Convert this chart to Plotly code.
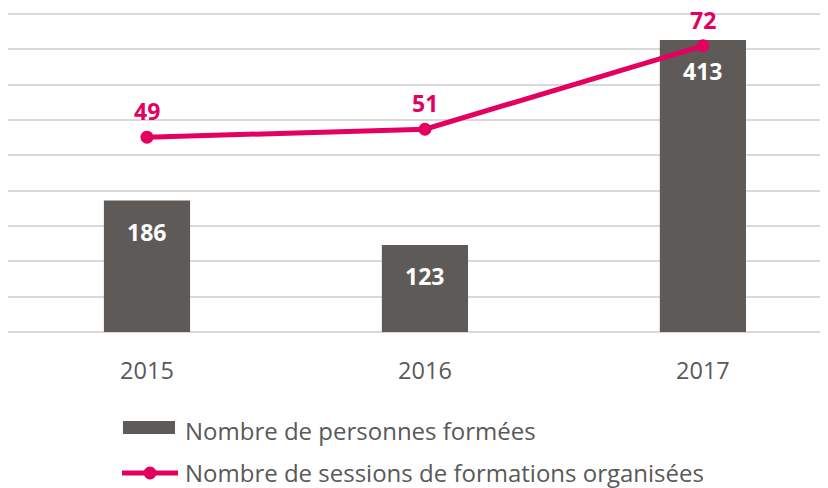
import plotly.graph_objects as go

annees = ["2015", "2016", "2017"]
personnes_formees = [186, 123, 413]
sessions_organisees = [49, 51, 72]
noms_series = ["Nombre de personnes formées",
               "Nombre de sessions de formations organisées"]

gris = "#5e5a58"
rose = "#e4005e"
texte = "#595959"
police = "Open Sans"

fig = go.Figure()

fig.add_trace(go.Bar(
    x=annees, y=personnes_formees,
    name=noms_series[0],
    marker=dict(color=gris, line=dict(width=0)),
    width=0.31,
))

fig.add_trace(go.Scatter(
    x=annees, y=sessions_organisees,
    name=noms_series[1],
    mode="lines+markers",
    line=dict(color=rose, width=5),
    marker=dict(color=rose, size=13),
    yaxis="y2",
))

# labels on the bars
for i, v in enumerate(personnes_formees):
    fig.add_annotation(x=i, y=v, xref="x", yref="y", text=f"<b>{v}</b>",
                       showarrow=False, yshift=-31,
                       font=dict(family=police, size=23, color="white"))

# labels above the line points
for i, v in enumerate(sessions_organisees):
    fig.add_annotation(x=i, y=v, xref="x", yref="y2", text=f"<b>{v}</b>",
                       showarrow=False, yshift=26,
                       font=dict(family=police, size=23, color=rose))

# legend drawn by hand (wide bar swatch, long line swatch), stacked below the axis
fig.add_shape(type="rect", xref="paper", yref="paper",
              x0=0.1402, x1=0.2037, y0=-0.3178, y1=-0.2773,
              fillcolor=gris, line=dict(width=0))
fig.add_shape(type="line", xref="paper", yref="paper",
              x0=0.139, x1=0.2073, y0=-0.4392, y1=-0.4392,
              line=dict(color=rose, width=5))
fig.add_shape(type="circle", xref="paper", yref="paper",
              xsizemode="pixel", ysizemode="pixel",
              xanchor=0.1732, yanchor=-0.4392,
              x0=-6.5, x1=6.5, y0=-6.5, y1=6.5,
              fillcolor=rose, line=dict(width=0))
for nom, y in zip(noms_series, [-0.3053, -0.4392]):
    fig.add_annotation(x=0.2134, y=y, xref="paper", yref="paper",
                       xanchor="left", yanchor="middle", showarrow=False,
                       text=nom, font=dict(family=police, size=24, color=texte))

# the page body adds 8px around the figure, so the figure is 8px smaller
fig.update_layout(
    width=820, height=480,
    margin=dict(l=0, r=0, t=3, b=156, autoexpand=False),
    paper_bgcolor="white",
    plot_bgcolor="white",
    font=dict(family=police, color=texte),
    showlegend=False,
    xaxis=dict(
        type="category",
        range=[-0.5, 2.45],
        showgrid=False, zeroline=False, showline=False,
        ticks="", ticklabelstandoff=22,
        tickfont=dict(family=police, size=23.5, color=texte),
    ),
    yaxis=dict(
        range=[0, 454.2], dtick=50,
        showgrid=True, gridcolor="#d9d9d9", gridwidth=2,
        zeroline=True, zerolinecolor="#d9d9d9", zerolinewidth=2,
        showline=False, showticklabels=False,
    ),
    yaxis2=dict(
        range=[0, 80.75], overlaying="y", side="right",
        showgrid=False, zeroline=False, showline=False, showticklabels=False,
    ),
)

fig.write_html("out.html")
